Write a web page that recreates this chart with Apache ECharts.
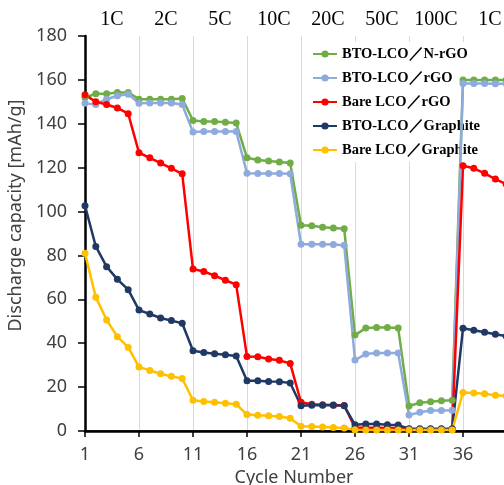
<!DOCTYPE html>
<html>
<head>
<meta charset="utf-8">
<title>Rate capability</title>
<script src="https://cdn.jsdelivr.net/npm/echarts@6/dist/echarts.min.js"></script>
<style>
html, body { margin: 0; padding: 0; background: #fff; }
#chart { width: 504px; height: 485px; }
</style>
</head>
<body>
<div id="chart"></div>
<script>
// cycle numbers (41 so the 36..41 band is as wide as the others)
var cycles = [];
for (var c = 1; c <= 41; c++) cycles.push(String(c));

var rateLabels = ['1C', '2C', '5C', '10C', '20C', '50C', '100C', '1C'];

var seriesNames = ['BTO-LCO／N-rGO', 'BTO-LCO／rGO', 'Bare LCO／rGO', 'BTO-LCO／Graphite', 'Bare LCO／Graphite'];
var seriesColors = ['#70ad47', '#8faadc', '#ff0000', '#203864', '#ffc000'];

var btoNrgo = [152, 153.7, 153.7, 154.3, 154.3, 151.2, 151.2, 151.2, 151.2, 151.5,
	141.5, 141, 141, 140.7, 140.3, 124.5, 123.5, 123, 122.6, 122.1,
	93.8, 93.5, 92.9, 92.5, 92.2, 43.7, 46.9, 47.2, 47.2, 46.9,
	11.4, 12.9, 13.3, 13.8, 14, 160, 160, 160, 160, 160];
var btoRgo = [149.3, 148.8, 151.2, 152.8, 153.5, 149.3, 149.5, 149.5, 149.5, 148.8,
	136.2, 136.5, 136.5, 136.5, 136.5, 117.5, 117.3, 117.3, 117.3, 117.2,
	85.1, 85.1, 85.1, 85, 84.7, 32.3, 35.1, 35.5, 35.5, 35.5,
	7.3, 8.5, 9.3, 9.3, 9.4, 158.4, 158.4, 158.4, 158.2, 158.2];
var bareRgo = [153.2, 150, 148.8, 147.2, 144.6, 126.8, 124.5, 122.1, 119.7, 117.2,
	73.8, 72.7, 70.8, 68.7, 66.7, 33.9, 33.8, 32.8, 32.2, 30.8,
	13.1, 12.2, 12, 11.8, 11.6, 1.5, 1.5, 1.5, 1.4, 1.4,
	0.8, 0.8, 0.8, 0.8, 0.8, 120.9, 119.7, 117.4, 114.8, 112.5];
var btoGraphite = [102.7, 84.1, 74.9, 69.1, 64.4, 55.1, 53.3, 51.5, 50.3, 49.1,
	36.6, 35.8, 35.2, 34.7, 34.2, 22.9, 22.9, 22.6, 22.5, 21.9,
	11.5, 11.7, 11.7, 11.7, 11.5, 2.8, 3.2, 3.2, 2.8, 2.7,
	1, 1, 1, 1, 1, 46.8, 45.9, 45, 44.1, 43.2];
var bareGraphite = [81, 61, 50.6, 43, 38.1, 29.2, 27.6, 26.1, 24.9, 23.9,
	14, 13.4, 13.1, 12.6, 12.2, 7.5, 7.2, 7, 6.6, 5.8,
	2.2, 2, 1.8, 1.6, 1.4, 0.6, 0.5, 0.5, 0.5, 0.5,
	0.4, 0.4, 0.4, 0.4, 0.4, 17.6, 17.3, 17, 16.3, 16];

var allData = [btoNrgo, btoRgo, bareRgo, btoGraphite, bareGraphite];

var sans = 'Noto Sans';
var serif = 'Liberation Serif';

var myChart = echarts.init(document.getElementById('chart'));
var option = {
	animation: false,
	backgroundColor: '#fff',
	grid: { left: 85, top: 36, right: -13, bottom: 54, containLabel: false, outerBoundsMode: 'none' },
	legend: {
		z: 1,
		orient: 'vertical',
		left: 306,
		top: 42,
		padding: [4, 6, 4, 6],
		backgroundColor: '#fff',
		itemWidth: 24,
		itemHeight: 9,
		itemGap: 8,
		textStyle: { fontFamily: serif, fontWeight: 'bold', fontSize: 14.5, color: '#000', lineHeight: 16 },
		data: seriesNames
	},
	xAxis: [{
		type: 'category',
		data: cycles,
		boundaryGap: false,
		position: 'bottom',
		axisLine: { onZero: false, lineStyle: { color: '#000', width: 2.5 } },
		axisTick: { interval: 4, length: 6, lineStyle: { color: '#000', width: 1.5 } },
		axisLabel: { interval: 4, margin: 15, fontFamily: sans, fontSize: 18, color: '#404040' },
		splitLine: { show: true, interval: 4, lineStyle: { color: '#d9d9d9', width: 1 } },
		name: 'Cycle Number',
		nameLocation: 'middle',
		nameGap: 38,
		nameTextStyle: { fontFamily: sans, fontSize: 18, color: '#404040', padding: [0, 14, 0, 0] }
	}, {
		type: 'category',
		data: rateLabels,
		boundaryGap: true,
		position: 'top',
		axisLine: { lineStyle: { color: '#000', width: 1.5 } },
		axisTick: { show: false },
		axisLabel: { interval: 0, margin: 6, fontFamily: serif, fontSize: 20, color: '#000' },
		splitLine: { show: false }
	}],
	yAxis: {
		type: 'value',
		min: 0,
		max: 180,
		interval: 20,
		axisLine: { show: true, lineStyle: { color: '#000', width: 2.5 } },
		axisTick: { show: true, length: 7, lineStyle: { color: '#000', width: 1.5 } },
		axisLabel: { margin: 18, fontFamily: sans, fontSize: 18, color: '#404040' },
		splitLine: { show: false },
		name: 'Discharge capacity [mAh/g]',
		nameLocation: 'middle',
		nameGap: 56,
		nameTextStyle: { fontFamily: sans, fontSize: 18, color: '#404040', padding: [0, 0, 0, 36] }
	},
	series: seriesNames.map(function (name, i) {
		return {
			name: name,
			type: 'line',
			z: 2,
			xAxisIndex: 0,
			data: allData[i],
			symbol: 'circle',
			symbolSize: 7,
			showAllSymbol: true,
			itemStyle: { color: seriesColors[i] },
			lineStyle: { color: seriesColors[i], width: 2.5 }
		};
	})
};
myChart.setOption(option);
</script>
</body>
</html>
